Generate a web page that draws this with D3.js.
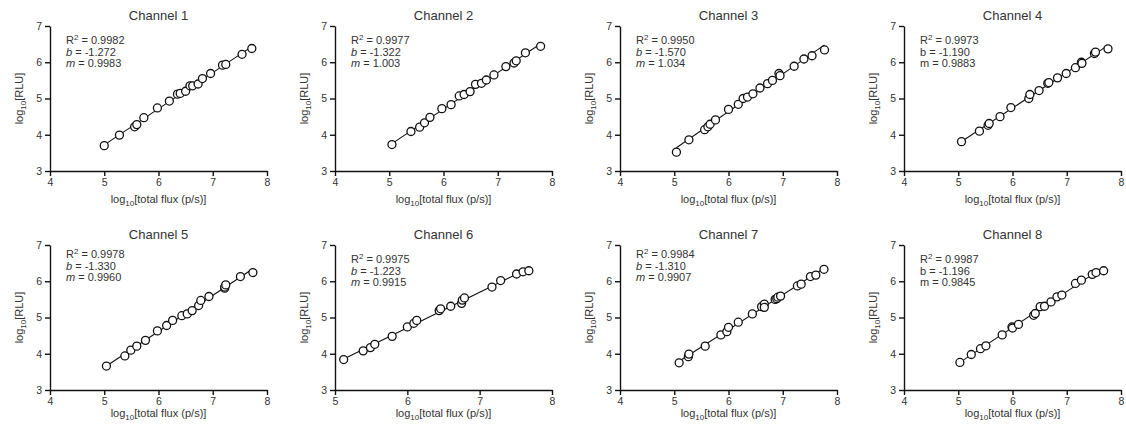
<!DOCTYPE html>
<html>
<head>
<meta charset="utf-8">
<script src="https://cdn.jsdelivr.net/npm/d3@7"></script>
<style>
    body { margin: 0; background: #fff; }
    svg { display: block; font-family: "Liberation Sans", Arial, sans-serif; }
    .axis path, .axis line { stroke: #111; stroke-width: 1.4px; }
    .axis text { font-size: 10.5px; fill: #333; }
</style>
</head>
<body>
<div id="chart"></div>
<script>
// data
const channels = ["Channel 1", "Channel 2", "Channel 3", "Channel 4", "Channel 5", "Channel 6", "Channel 7", "Channel 8"]
const xDomains = [[4, 8], [4, 8], [4, 8], [4, 8], [4, 8], [5, 8], [4, 8], [4, 8]]
const yDomain = [3, 7]
const r2Labels = ["0.9982", "0.9977", "0.9950", "0.9973", "0.9978", "0.9975", "0.9984", "0.9987"]
const bLabels = ["-1.272", "-1.322", "-1.570", "-1.190", "-1.330", "-1.223", "-1.310", "-1.196"]
const mLabels = ["0.9983", "1.003", "1.034", "0.9883", "0.9960", "0.9915", "0.9907", "0.9845"]
const italicLabels = [true, true, true, false, true, true, true, false]

const ch1Flux = [5.00, 5.28, 5.56, 5.60, 5.73, 5.98, 6.20, 6.35, 6.40, 6.50, 6.58, 6.63, 6.73, 6.81, 6.96, 7.18, 7.24, 7.54, 7.72]
const ch1Rlu = [3.70, 3.99, 4.22, 4.28, 4.47, 4.74, 4.93, 5.12, 5.14, 5.20, 5.35, 5.35, 5.40, 5.55, 5.69, 5.92, 5.94, 6.22, 6.38]
const ch2Flux = [5.05, 5.40, 5.56, 5.65, 5.75, 5.97, 6.14, 6.29, 6.38, 6.49, 6.59, 6.70, 6.79, 6.93, 7.15, 7.30, 7.34, 7.51, 7.79]
const ch2Rlu = [3.73, 4.09, 4.21, 4.33, 4.48, 4.72, 4.83, 5.07, 5.11, 5.19, 5.39, 5.42, 5.51, 5.65, 5.88, 5.98, 6.04, 6.26, 6.44]
const ch3Flux = [5.04, 5.27, 5.56, 5.62, 5.66, 5.76, 6.00, 6.18, 6.27, 6.35, 6.45, 6.58, 6.72, 6.81, 6.93, 6.95, 7.21, 7.39, 7.54, 7.77]
const ch3Rlu = [3.52, 3.86, 4.14, 4.22, 4.29, 4.41, 4.70, 4.84, 5.00, 5.04, 5.13, 5.29, 5.41, 5.50, 5.69, 5.63, 5.89, 6.09, 6.18, 6.34]
const ch4Flux = [5.06, 5.39, 5.55, 5.57, 5.77, 5.97, 6.30, 6.32, 6.49, 6.65, 6.67, 6.83, 6.99, 7.16, 7.27, 7.28, 7.51, 7.53, 7.76]
const ch4Rlu = [3.81, 4.10, 4.26, 4.31, 4.50, 4.75, 5.00, 5.11, 5.22, 5.42, 5.44, 5.57, 5.69, 5.85, 6.00, 5.97, 6.24, 6.28, 6.37]
const ch5Flux = [5.04, 5.38, 5.49, 5.60, 5.76, 5.98, 6.15, 6.26, 6.43, 6.53, 6.62, 6.74, 6.78, 6.93, 7.22, 7.22, 7.24, 7.51, 7.74]
const ch5Rlu = [3.66, 3.94, 4.10, 4.21, 4.37, 4.63, 4.78, 4.92, 5.05, 5.10, 5.19, 5.33, 5.47, 5.58, 5.81, 5.84, 5.90, 6.13, 6.24]
const ch6Flux = [5.12, 5.39, 5.49, 5.55, 5.79, 6.00, 6.09, 6.13, 6.44, 6.46, 6.60, 6.75, 6.76, 6.79, 7.17, 7.29, 7.51, 7.60, 7.68]
const ch6Rlu = [3.84, 4.08, 4.17, 4.26, 4.48, 4.74, 4.84, 4.92, 5.19, 5.24, 5.31, 5.39, 5.48, 5.54, 5.84, 6.02, 6.20, 6.26, 6.29]
const ch7Flux = [5.09, 5.26, 5.27, 5.57, 5.86, 5.97, 6.00, 6.18, 6.44, 6.61, 6.66, 6.66, 6.86, 6.89, 6.91, 6.96, 7.27, 7.34, 7.51, 7.61, 7.76]
const ch7Rlu = [3.75, 3.92, 3.99, 4.21, 4.52, 4.61, 4.73, 4.87, 5.10, 5.30, 5.37, 5.28, 5.50, 5.52, 5.56, 5.59, 5.87, 5.92, 6.13, 6.17, 6.33]
const ch8Flux = [5.03, 5.24, 5.41, 5.51, 5.81, 5.99, 6.00, 6.11, 6.39, 6.42, 6.51, 6.59, 6.71, 6.82, 6.91, 7.16, 7.27, 7.47, 7.54, 7.68]
const ch8Rlu = [3.76, 3.98, 4.14, 4.22, 4.52, 4.74, 4.71, 4.81, 5.06, 5.11, 5.30, 5.31, 5.43, 5.57, 5.62, 5.94, 6.03, 6.19, 6.24, 6.29]

const fluxData = [ch1Flux, ch2Flux, ch3Flux, ch4Flux, ch5Flux, ch6Flux, ch7Flux, ch8Flux]
const rluData = [ch1Rlu, ch2Rlu, ch3Rlu, ch4Rlu, ch5Rlu, ch6Rlu, ch7Rlu, ch8Rlu]

// dimensions
const panelLeft = [50, 335, 620, 904]
const panelTop = [26, 245]
const xLabelDy = [32, 27]
const noteDy = [18, 18, 18, 18, 13, 18, 13, 18]
const plotW = 217
const plotH = 145

const svg = d3.select("#chart")
    .append("svg")
    .attr("width", 1126)
    .attr("height", 430)

function fitLine(xs, ys) {
    const mx = d3.mean(xs), my = d3.mean(ys)
    let sxy = 0, sxx = 0
    xs.forEach((x, i) => {
        sxy += (x - mx) * (ys[i] - my)
        sxx += (x - mx) * (x - mx)
    })
    const slope = sxy / sxx
    return {slope: slope, intercept: my - slope * mx}
}

channels.forEach((name, i) => {
    const col = i % 4
    const row = Math.floor(i / 4)
    const g = svg.append("g")
        .attr("transform", "translate(" + panelLeft[col] + "," + panelTop[row] + ")")

    const xScale = d3.scaleLinear().domain(xDomains[i]).range([0, plotW])
    const yScale = d3.scaleLinear().domain(yDomain).range([plotH, 0])

    // axes
    g.append("g")
        .attr("class", "axis")
        .attr("transform", "translate(0," + plotH + ")")
        .call(d3.axisBottom(xScale)
            .tickValues(d3.range(xDomains[i][0], xDomains[i][1] + 1))
            .tickFormat(d3.format("d"))
            .tickSize(5).tickSizeOuter(0).tickPadding(3))
    g.append("g")
        .attr("class", "axis")
        .call(d3.axisLeft(yScale)
            .tickValues(d3.range(yDomain[0], yDomain[1] + 1))
            .tickFormat(d3.format("d"))
            .tickSize(5).tickSizeOuter(0).tickPadding(3))

    // title
    g.append("text")
        .attr("x", plotW / 2)
        .attr("y", -6)
        .attr("text-anchor", "middle")
        .attr("font-size", 13)
        .attr("fill", "#333")
        .text(name)

    // axis labels
    const xl = g.append("text")
        .attr("x", plotW / 2)
        .attr("y", plotH + xLabelDy[row])
        .attr("text-anchor", "middle")
        .attr("font-size", 11)
        .attr("fill", "#333")
    xl.append("tspan").text("log")
    xl.append("tspan").attr("font-size", 8).attr("dy", 3).text("10")
    xl.append("tspan").attr("dy", -3).text("[total flux (p/s)]")

    const yl = g.append("text")
        .attr("transform", "translate(-27," + (plotH / 2) + ") rotate(-90)")
        .attr("text-anchor", "middle")
        .attr("font-size", 11)
        .attr("fill", "#333")
    yl.append("tspan").text("log")
    yl.append("tspan").attr("font-size", 8).attr("dy", 3).text("10")
    yl.append("tspan").attr("dy", -3).text("[RLU]")

    // annotation
    const note = g.append("g").attr("transform", "translate(16," + noteDy[i] + ")")
    const t1 = note.append("text").attr("font-size", 11).attr("fill", "#333")
    t1.append("tspan").text("R")
    t1.append("tspan").attr("font-size", 8).attr("dy", -4).text("2")
    t1.append("tspan").attr("dy", 4).text(" = " + r2Labels[i])
    const t2 = note.append("text").attr("y", 11.5).attr("font-size", 11).attr("fill", "#333")
    t2.append("tspan").attr("font-style", italicLabels[i] ? "italic" : "normal").text("b")
    t2.append("tspan").text(" = " + bLabels[i])
    const t3 = note.append("text").attr("y", 23).attr("font-size", 11).attr("fill", "#333")
    t3.append("tspan").attr("font-style", italicLabels[i] ? "italic" : "normal").text("m")
    t3.append("tspan").text(" = " + mLabels[i])

    // fit line
    const points = fluxData[i].map((x, j) => ({x: x, y: rluData[i][j]}))
    const fit = fitLine(fluxData[i], rluData[i])
    const ext = d3.extent(fluxData[i])
    g.append("path")
        .attr("d", d3.line().x(d => xScale(d)).y(d => yScale(fit.slope * d + fit.intercept))(ext))
        .attr("stroke", "#111")
        .attr("stroke-width", 1.1)
        .attr("fill", "none")

    // points
    g.selectAll("circle")
        .data(points)
        .join("circle")
        .attr("cx", d => xScale(d.x))
        .attr("cy", d => yScale(d.y))
        .attr("r", 4)
        .attr("fill", "#fff")
        .attr("stroke", "#111")
        .attr("stroke-width", 1.3)
})
</script>
</body>
</html>
